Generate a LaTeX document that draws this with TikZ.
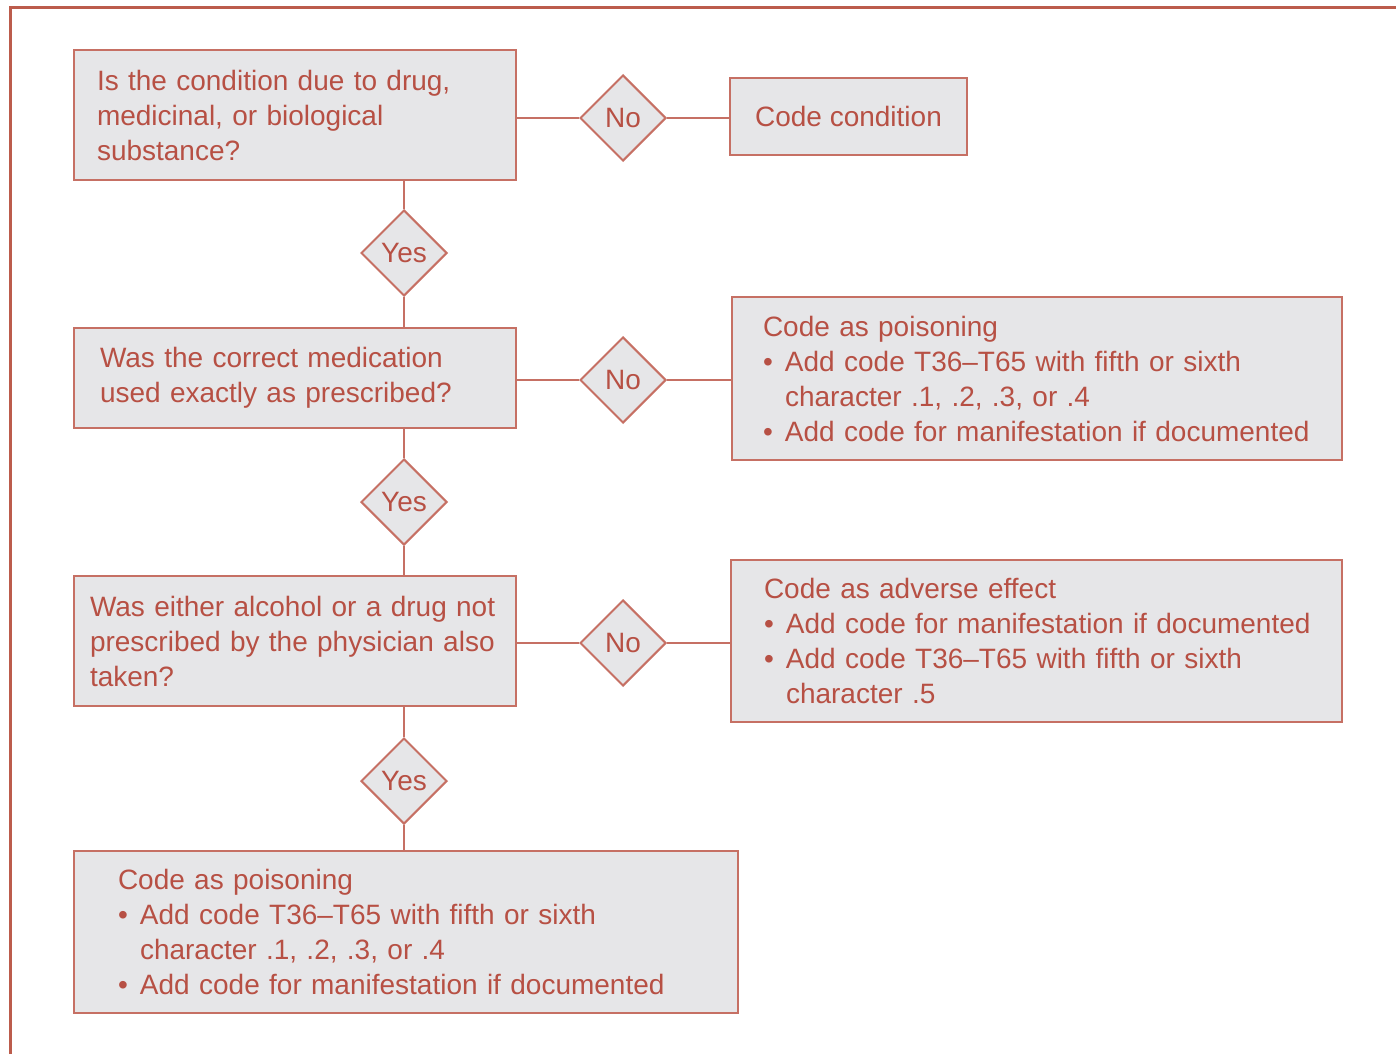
\documentclass[tikz,border=0pt]{standalone}
\usepackage{fontspec}
\setmainfont{Liberation Sans}
\usetikzlibrary{shapes.geometric}

\definecolor{rusttext}{RGB}{183,80,68}
\definecolor{rustline}{RGB}{198,112,100}
\definecolor{rustframe}{RGB}{188,92,76}
\definecolor{boxgray}{RGB}{230,230,232}

\newcommand{\bul}[1]{\mbox{\makebox[11pt][l]{\textbullet}#1}}
\newcommand{\ind}{\hspace*{11pt}}

\tikzset{
  qbox/.style={draw=rustline,fill=boxgray,line width=1pt,rectangle,
    text=rusttext,font=\fontsize{14}{17.5}\selectfont,align=left},
  decide/.style={draw=rustline,fill=boxgray,line width=1pt,diamond,
    minimum width=43pt,minimum height=43pt,inner sep=0pt,
    text=rusttext,font=\fontsize{14}{17.5}\selectfont},
  link/.style={draw=rustline,line width=1pt}
}

\begin{document}
\begin{tikzpicture}[x=0.5pt,y=-0.5pt]
        % page and frame
        \useasboundingbox[fill=white] (0,0) rectangle (1396,1054);
        \draw[rustframe,line width=1.5pt] (10,1054) -- (10,8) -- (1396,8);

        % question boxes on the left
        \node[qbox,minimum width=221pt,minimum height=65pt,inner xsep=11.5pt,text width=198pt]
            (drug) at (295,115) {Is the condition due to drug,\\medicinal, or biological\\substance?};
        \node[qbox,minimum width=221pt,minimum height=50pt,inner xsep=13pt,text width=195pt]
            (correct) at (295,378) {Was the correct medication\\used exactly as prescribed?};
        \node[qbox,minimum width=221pt,minimum height=65pt,inner xsep=8pt,text width=205pt]
            (alcohol) at (295,641) {Was either alcohol or a drug not\\prescribed by the physician also\\taken?};
        \node[qbox,minimum width=332pt,minimum height=81pt,inner xsep=22pt,text width=288pt]
            (poison2) at (406,932) {Code as poisoning\\\bul{Add code T36--T65 with fifth or sixth}\\\ind character .1, .2, .3, or .4\\\bul{Add code for manifestation if documented}};

        % outcome boxes on the right
        \node[qbox,minimum width=118.5pt,minimum height=38.5pt,align=center]
            (condition) at (848.5,116.5) {Code condition};
        \node[qbox,minimum width=305pt,minimum height=81.5pt,inner xsep=15.5pt,text width=274pt]
            (poison1) at (1037,378.5) {Code as poisoning\\\bul{Add code T36--T65 with fifth or sixth}\\\ind character .1, .2, .3, or .4\\\bul{Add code for manifestation if documented}};
        \node[qbox,minimum width=305.5pt,minimum height=81pt,inner xsep=16.5pt,text width=272.5pt]
            (adverse) at (1036.5,641) {Code as adverse effect\\\bul{Add code for manifestation if documented}\\\bul{Add code T36--T65 with fifth or sixth}\\\ind character .5};

        % decisions
        \node[decide] (no1) at (623,118) {No};
        \node[decide] (no2) at (623,380) {No};
        \node[decide] (no3) at (623,643) {No};
        \node[decide] (yes1) at (404,253) {Yes};
        \node[decide] (yes2) at (404,502) {Yes};
        \node[decide] (yes3) at (404,781) {Yes};

        % connectors
        \draw[link] (no1.west) -- (no1.west -| drug.east);
        \draw[link] (no1.east) -- (no1.east -| condition.west);
        \draw[link] (no2.west) -- (no2.west -| correct.east);
        \draw[link] (no2.east) -- (no2.east -| poison1.west);
        \draw[link] (no3.west) -- (no3.west -| alcohol.east);
        \draw[link] (no3.east) -- (no3.east -| adverse.west);
        \draw[link] (yes1.north) -- (yes1.north |- drug.south);
        \draw[link] (yes1.south) -- (yes1.south |- correct.north);
        \draw[link] (yes2.north) -- (yes2.north |- correct.south);
        \draw[link] (yes2.south) -- (yes2.south |- alcohol.north);
        \draw[link] (yes3.north) -- (yes3.north |- alcohol.south);
        \draw[link] (yes3.south) -- (yes3.south |- poison2.north);
\end{tikzpicture}
\end{document}
